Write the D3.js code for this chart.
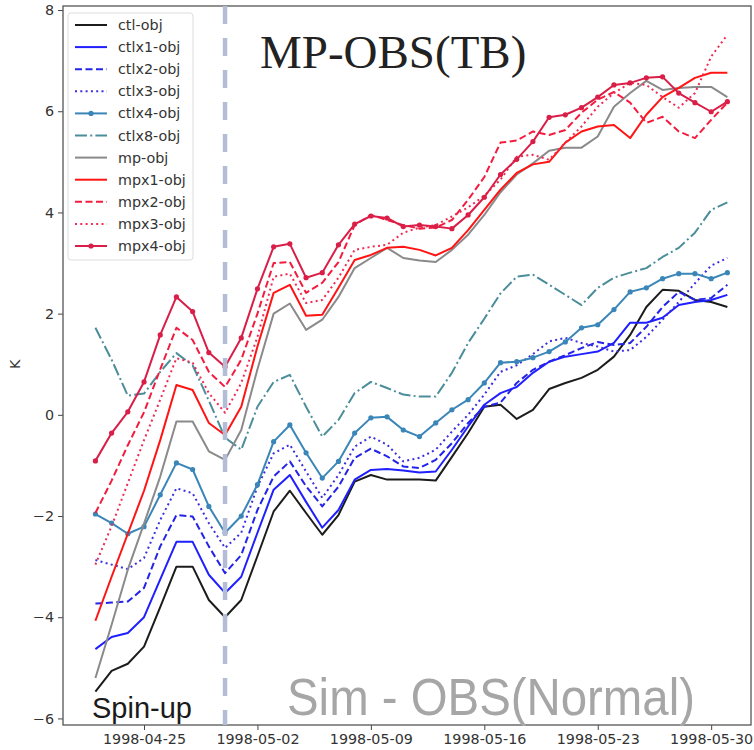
<!DOCTYPE html>
<html lang="en">
<head>
    <meta charset="UTF-8">
    <title>MP-OBS(TB)</title>
    <script src="https://cdn.jsdelivr.net/npm/d3@7"></script>
    <style>
        body { margin: 0; background: #fff; }
        text { font-family: 'DejaVu Sans', sans-serif; }
    </style>
</head>
<body>
<script>
    const startDay = '1998-04-22'
    const tickDays = ['1998-04-25', '1998-05-02', '1998-05-09', '1998-05-16', '1998-05-23', '1998-05-30']
    const spinUpDay = '1998-04-30'
    const yTicks = [-6, -4, -2, 0, 2, 4, 6, 8]

    const ctl = [-5.47, -5.06, -4.92, -4.58, -3.8, -3.0, -3.0, -3.66, -4.0, -3.66, -2.79, -1.91, -1.5, -1.94, -2.37, -1.98, -1.32, -1.19, -1.28, -1.28, -1.28, -1.3, -0.83, -0.36, 0.16, 0.2, -0.08, 0.1, 0.51, 0.63, 0.73, 0.89, 1.15, 1.58, 2.13, 2.47, 2.45, 2.27, 2.23, 2.13]
    const ctlx1 = [-4.63, -4.39, -4.31, -4.0, -3.25, -2.51, -2.51, -3.16, -3.52, -3.2, -2.33, -1.48, -1.19, -1.72, -2.23, -1.88, -1.28, -1.09, -1.07, -1.1, -1.14, -1.12, -0.69, -0.23, 0.2, 0.43, 0.55, 0.83, 1.05, 1.15, 1.2, 1.25, 1.42, 1.82, 1.82, 1.92, 2.17, 2.23, 2.27, 2.37]
    const ctlx2 = [-3.73, -3.71, -3.69, -3.42, -2.6, -1.98, -2.01, -2.6, -3.13, -2.77, -1.88, -1.22, -0.92, -1.41, -1.81, -1.42, -0.85, -0.67, -0.82, -1.02, -1.05, -0.89, -0.56, -0.16, 0.16, 0.24, 0.63, 0.89, 1.05, 1.18, 1.32, 1.44, 1.38, 1.42, 1.74, 2.13, 2.43, 2.27, 2.31, 2.57]
    const ctlx3 = [-2.87, -2.96, -3.05, -2.83, -2.08, -1.45, -1.55, -2.14, -2.63, -2.33, -1.42, -0.76, -0.59, -1.12, -1.64, -1.19, -0.63, -0.43, -0.59, -0.92, -0.85, -0.69, -0.33, 0.0, 0.4, 0.85, 0.98, 1.2, 1.45, 1.52, 1.42, 1.35, 1.25, 1.28, 1.54, 1.88, 2.23, 2.6, 2.95, 3.1]
    const ctlx4 = [-1.96, -2.14, -2.35, -2.21, -1.58, -0.95, -1.08, -1.81, -2.33, -2.0, -1.38, -0.53, -0.2, -0.75, -1.25, -0.92, -0.36, -0.06, -0.04, -0.3, -0.43, -0.16, 0.1, 0.3, 0.63, 1.03, 1.05, 1.13, 1.25, 1.44, 1.72, 1.78, 2.08, 2.43, 2.51, 2.69, 2.79, 2.79, 2.69, 2.81]
    const ctlx8 = [1.72, 1.09, 0.38, 0.42, 0.85, 1.22, 0.98, 0.28, -0.45, -0.69, 0.16, 0.65, 0.79, 0.16, -0.43, -0.1, 0.43, 0.65, 0.53, 0.4, 0.36, 0.36, 0.83, 1.42, 1.9, 2.4, 2.73, 2.77, 2.57, 2.37, 2.17, 2.51, 2.71, 2.81, 2.9, 3.12, 3.3, 3.6, 4.05, 4.2]
    const mp = [-5.2, -4.15, -3.06, -2.15, -1.22, -0.13, -0.13, -0.72, -0.89, -0.3, 0.9, 2.0, 2.2, 1.68, 1.88, 2.33, 2.9, 3.1, 3.3, 3.1, 3.05, 3.02, 3.26, 3.56, 3.95, 4.4, 4.75, 4.97, 5.22, 5.28, 5.28, 5.5, 6.09, 6.36, 6.6, 6.42, 6.46, 6.48, 6.48, 6.28]
    const mpx1 = [-4.07, -3.2, -2.35, -1.5, -0.5, 0.59, 0.49, -0.16, -0.4, 0.16, 1.35, 2.41, 2.57, 1.96, 1.98, 2.51, 3.06, 3.16, 3.3, 3.32, 3.26, 3.15, 3.3, 3.65, 4.05, 4.45, 4.78, 4.95, 5.0, 5.38, 5.6, 5.7, 5.73, 5.47, 5.93, 6.28, 6.46, 6.66, 6.76, 6.76]
    const mpx2 = [-1.94, -1.3, -0.6, 0.05, 0.9, 1.72, 1.48, 0.85, 0.55, 1.09, 2.0, 3.0, 3.02, 2.41, 2.61, 3.02, 3.75, 3.95, 3.85, 3.75, 3.68, 3.7, 3.85, 4.25, 4.7, 5.38, 5.42, 5.6, 5.53, 5.63, 5.97, 6.23, 6.38, 6.17, 5.77, 5.89, 5.6, 5.47, 5.83, 6.17]
    const mpx3 = [-2.96, -2.2, -1.35, -0.5, 0.3, 1.12, 1.03, 0.43, 0.04, 0.63, 1.54, 2.73, 2.79, 2.21, 2.27, 2.71, 3.26, 3.32, 3.36, 3.6, 3.7, 3.75, 3.92, 4.1, 4.33, 4.65, 5.1, 5.14, 5.04, 5.38, 5.7, 6.09, 6.36, 6.56, 6.52, 6.28, 6.07, 6.36, 7.08, 7.51]
    const mpx4 = [-0.91, -0.36, 0.06, 0.65, 1.58, 2.33, 2.04, 1.23, 0.95, 1.52, 2.49, 3.32, 3.38, 2.71, 2.81, 3.36, 3.77, 3.93, 3.89, 3.72, 3.75, 3.72, 3.68, 3.95, 4.3, 4.75, 5.05, 5.4, 5.88, 5.93, 6.07, 6.28, 6.52, 6.56, 6.66, 6.68, 6.36, 6.17, 5.99, 6.19]

    const series = [
        { name: 'ctl-obj', values: ctl, color: '#1c1c1c', dash: null, marker: false },
        { name: 'ctlx1-obj', values: ctlx1, color: '#1f1fff', dash: null, marker: false },
        { name: 'ctlx2-obj', values: ctlx2, color: '#2424e8', dash: '7,3.5', marker: false },
        { name: 'ctlx3-obj', values: ctlx3, color: '#3a2ee0', dash: '2,3.3', marker: false },
        { name: 'ctlx4-obj', values: ctlx4, color: '#3a86b8', dash: null, marker: true },
        { name: 'ctlx8-obj', values: ctlx8, color: '#4b8d9a', dash: '12,3.2,2,3.2', marker: false },
        { name: 'mp-obj', values: mp, color: '#8a8a8a', dash: null, marker: false },
        { name: 'mpx1-obj', values: mpx1, color: '#ff1414', dash: null, marker: false },
        { name: 'mpx2-obj', values: mpx2, color: '#f41c3e', dash: '7,3.5', marker: false },
        { name: 'mpx3-obj', values: mpx3, color: '#f02a52', dash: '2,3.3', marker: false },
        { name: 'mpx4-obj', values: mpx4, color: '#d91e48', dash: null, marker: true }
    ]

    const [width, height] = [754, 750]
    const [plotLeft, plotRight, plotTop, plotBottom] = [63, 751, 6, 725]
    const parse = d3.utcParse('%Y-%m-%d')
    const days = d3.utcDay.range(parse(startDay), d3.utcDay.offset(parse(startDay), ctl.length))

    const svg = d3.select('body').append('svg').attr('width', width).attr('height', height)

    const x = d3.scaleUtc()
        .domain([parse('1998-04-20'), d3.utcHour.offset(parse('1998-06-01'), 11)])
        .range([plotLeft, plotRight])
    const y = d3.scaleLinear().domain([-6.13, 8.08]).range([plotBottom, plotTop])

    // axes
    const xAxis = d3.axisBottom(x).tickValues(tickDays.map(parse))
        .tickFormat(d3.utcFormat('%Y-%m-%d')).tickSize(5).tickPadding(4)
    const yAxis = d3.axisLeft(y).tickValues(yTicks).tickSize(5).tickPadding(4)

    svg.append('g').attr('transform', `translate(0, ${plotBottom})`).call(xAxis)
    svg.append('g').attr('transform', `translate(${plotLeft}, 0)`).call(yAxis)
    svg.selectAll('.domain').remove()
    svg.selectAll('.tick line').attr('stroke', '#444')
    svg.selectAll('.tick text').attr('fill', '#333').style('font-size', '14.3px')
        .style('font-family', "'DejaVu Sans', sans-serif")

    svg.append('rect').attr('x', plotLeft).attr('y', plotTop)
        .attr('width', plotRight - plotLeft).attr('height', plotBottom - plotTop)
        .attr('fill', 'none').attr('stroke', '#555').attr('stroke-width', 1.3)

    svg.append('text').attr('transform', `translate(20, ${y(1)}) rotate(-90)`)
        .attr('text-anchor', 'middle').attr('fill', '#333').style('font-size', '14.3px').text('K')

    // lines
    const line = d3.line().x((d, i) => x(days[i])).y(d => y(d))
    const plot = svg.append('g')
    series.forEach(s => {
        plot.append('path').datum(s.values)
            .attr('d', line)
            .attr('fill', 'none')
            .attr('stroke', s.color)
            .attr('stroke-width', 2)
            .attr('stroke-linejoin', 'round')
            .attr('stroke-dasharray', s.dash)
        if (s.marker) {
            plot.selectAll(null).data(s.values).enter().append('circle')
                .attr('cx', (d, i) => x(days[i]))
                .attr('cy', d => y(d))
                .attr('r', 2.6)
                .attr('fill', s.color)
        }
    })

    // spin-up divider
    svg.append('line')
        .attr('x1', x(parse(spinUpDay))).attr('x2', x(parse(spinUpDay)))
        .attr('y1', plotTop).attr('y2', plotBottom)
        .attr('stroke', '#b3bed6').attr('stroke-width', 4.5)
        .attr('stroke-dasharray', '18,14')

    // legend
    const legend = svg.append('g')
    legend.append('rect').attr('x', 68).attr('y', 13).attr('width', 125).attr('height', 247)
        .attr('rx', 3).attr('fill', '#fff').attr('fill-opacity', 0.85)
        .attr('stroke', '#ddd')
    const row = legend.selectAll('g.row').data(series).enter().append('g').attr('class', 'row')
        .attr('transform', (d, i) => `translate(0, ${25 + i * 22.1})`)
    row.append('line').attr('x1', 75).attr('x2', 107)
        .attr('stroke', d => d.color).attr('stroke-width', 2)
        .attr('stroke-dasharray', d => d.dash)
    row.filter(d => d.marker).append('circle').attr('cx', 91).attr('r', 2.6).attr('fill', d => d.color)
    row.append('text').attr('x', 118).attr('dy', '0.35em')
        .attr('fill', '#333').style('font-size', '14.3px').text(d => d.name)

    // annotations
    svg.append('text').attr('x', 260).attr('y', 68)
        .style('font-family', "'Liberation Serif', 'Times New Roman', serif")
        .style('font-size', '47px').attr('fill', '#222').text('MP-OBS(TB)')
    svg.append('text').attr('x', 92).attr('y', 718)
        .style('font-family', "'Liberation Sans', Arial, sans-serif")
        .style('font-size', '29px').attr('fill', '#1a1a1a').text('Spin-up')
    svg.append('text').attr('x', 287).attr('y', 715)
        .style('font-family', "'Liberation Sans', Arial, sans-serif")
        .style('font-size', '52px').attr('fill', '#a6a6a6')
        .attr('textLength', 408).attr('lengthAdjust', 'spacingAndGlyphs')
        .text('Sim - OBS(Normal)')
</script>
</body>
</html>
